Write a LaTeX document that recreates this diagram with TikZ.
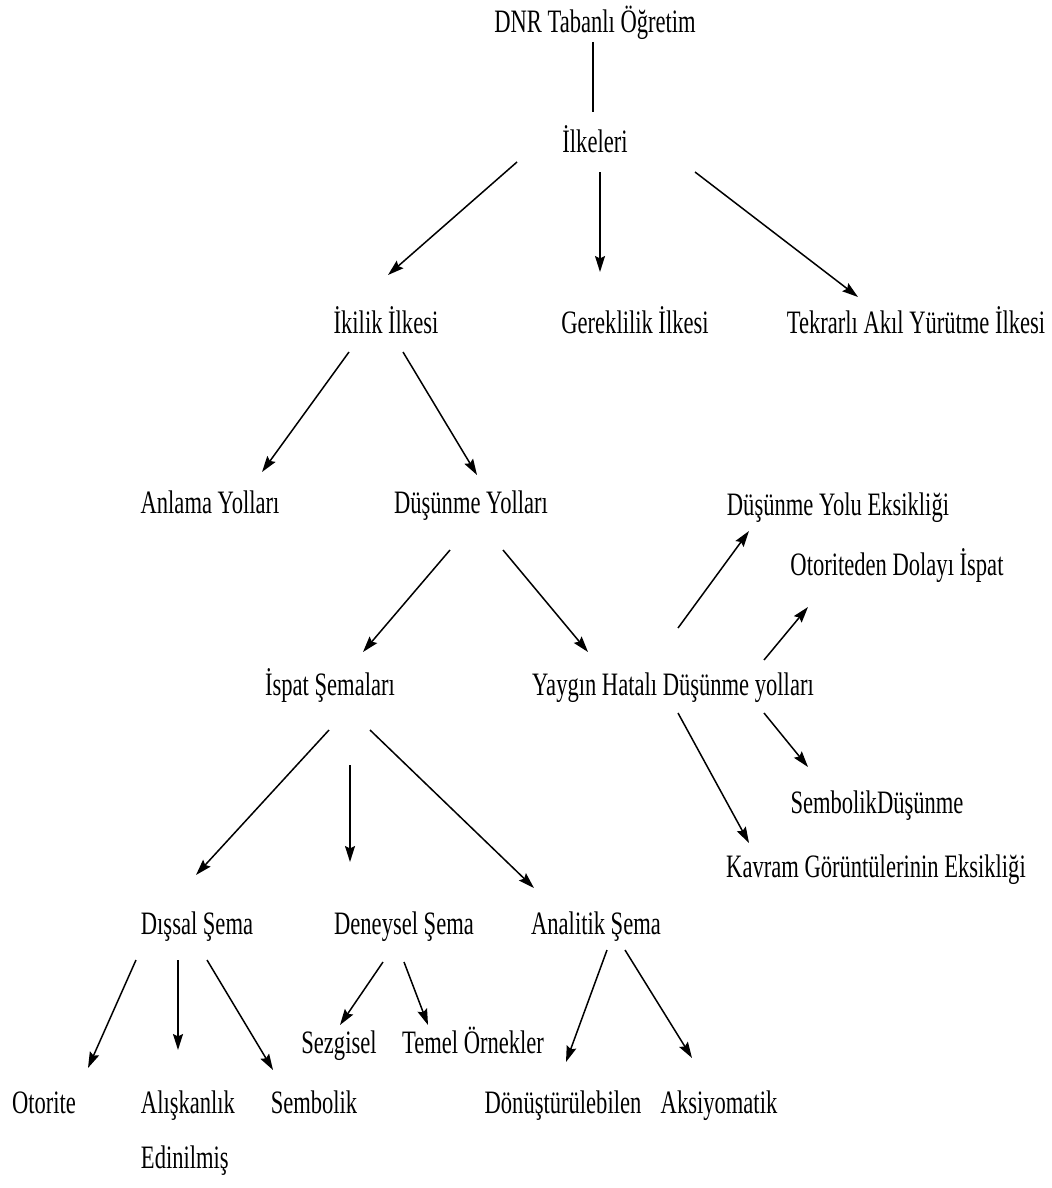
\documentclass[tikz,border=0pt]{standalone}
\usepackage{fontspec}
\setmainfont{Liberation Serif}[FakeStretch=0.69]
\usepackage{tikz}
\usetikzlibrary{arrows.meta,positioning,calc}

\begin{document}
\begin{tikzpicture}[
  x=0.5pt, y=-0.5pt,
  >={Stealth[length=8pt,width=5pt,inset=1.2pt]},
  lbl/.style={inner sep=0pt, anchor=base, font=\fontsize{16.35pt}{20pt}\selectfont},
  arr/.style={->, line width=0.75pt},
  ln/.style={line width=0.75pt}
]
\useasboundingbox (0,0) rectangle (1051,1188);
% root and principles
\node[lbl] (top) at (595,33) {DNR Tabanlı Öğretim};
\node[lbl] (ilk) at (595,153) {İlkeleri};
\node[lbl] (ikilik) at (386,333) {İkilik İlkesi};
\node[lbl] (gerek) at (635,333) {Gereklilik İlkesi};
\node[lbl] (tekrar) at (916,333) {Tekrarlı Akıl Yürütme İlkesi};
% ways
\node[lbl] (anlama) at (210,513) {Anlama Yolları};
\node[lbl] (dusunme) at (471,513) {Düşünme Yolları};
\node[lbl] (ispat) at (330,695) {İspat Şemaları};
\node[lbl] (yaygin) at (673,695) {Yaygın Hatalı Düşünme yolları};
% faulty ways
\node[lbl] (eksik) at (838,515) {Düşünme Yolu Eksikliği};
\node[lbl] (otor) at (897,575) {Otoriteden Dolayı İspat};
\node[lbl] (sembd) at (877,813) {SembolikDüşünme};
\node[lbl] (kavram) at (876,877) {Kavram Görüntülerinin Eksikliği};
% proof schemes
\node[lbl] (dissal) at (197,934) {Dışsal Şema};
\node[lbl] (deney) at (404,934) {Deneysel Şema};
\node[lbl] (analitik) at (596,934) {Analitik Şema};
\node[lbl] (sezgi) at (339,1053) {Sezgisel};
\node[lbl] (temel) at (473,1053) {Temel Örnekler};
\node[lbl] (otorite) at (44,1113) {Otorite};
\node[lbl] (aliskan) at (188,1113) {Alışkanlık};
\node[lbl, anchor=base west] (edin) at ($(aliskan.base west)+(0,55)$) {Edinilmiş};
\node[lbl] (sembolik) at (314,1113) {Sembolik};
\node[lbl] (donus) at (563,1113) {Dönüştürülebilen};
\node[lbl] (aksiyom) at (719,1113) {Aksiyomatik};
% connectors
\draw[ln] ($(top.base)+(-2,9)$) -- ($(ilk.base)+(-2,-41)$);
\foreach \a/\ax/\ay/\b/\bx/\by in {
  ilk/-78/9/ikilik/2/-58, ilk/5/19/gerek/-35/-61, ilk/100/19/tekrar/-58/-36,
  ikilik/-37/19/anlama/52/-41, ikilik/17/19/dusunme/6/-38,
  dusunme/-21/37/ispat/33/-43, dusunme/32/37/yaygin/-85/-43,
  yaygin/5/-67/eksik/-89/16, yaygin/91/-35/otor/-89/32,
  yaygin/91/18/sembd/-69/-46, yaygin/5/18/kavram/-127/-34,
  ispat/-1/35/dissal/-1/-59, ispat/20/70/deney/-54/-72, ispat/40/35/analitik/-62/-46,
  dissal/-61/26/otorite/44/-45, dissal/-19/26/aliskan/-10/-63, dissal/10/26/sembolik/-41/-43,
  deney/-21/28/sezgi/1/-28, deney/0/28/temel/-45/-28,
  analitik/11/16/donus/3/-51, analitik/29/16/aksiyom/-27/-55}
  {\draw[arr] ($(\a.base)+(\ax,\ay)$) -- ($(\b.base)+(\bx,\by)$);}
\end{tikzpicture}
\end{document}
